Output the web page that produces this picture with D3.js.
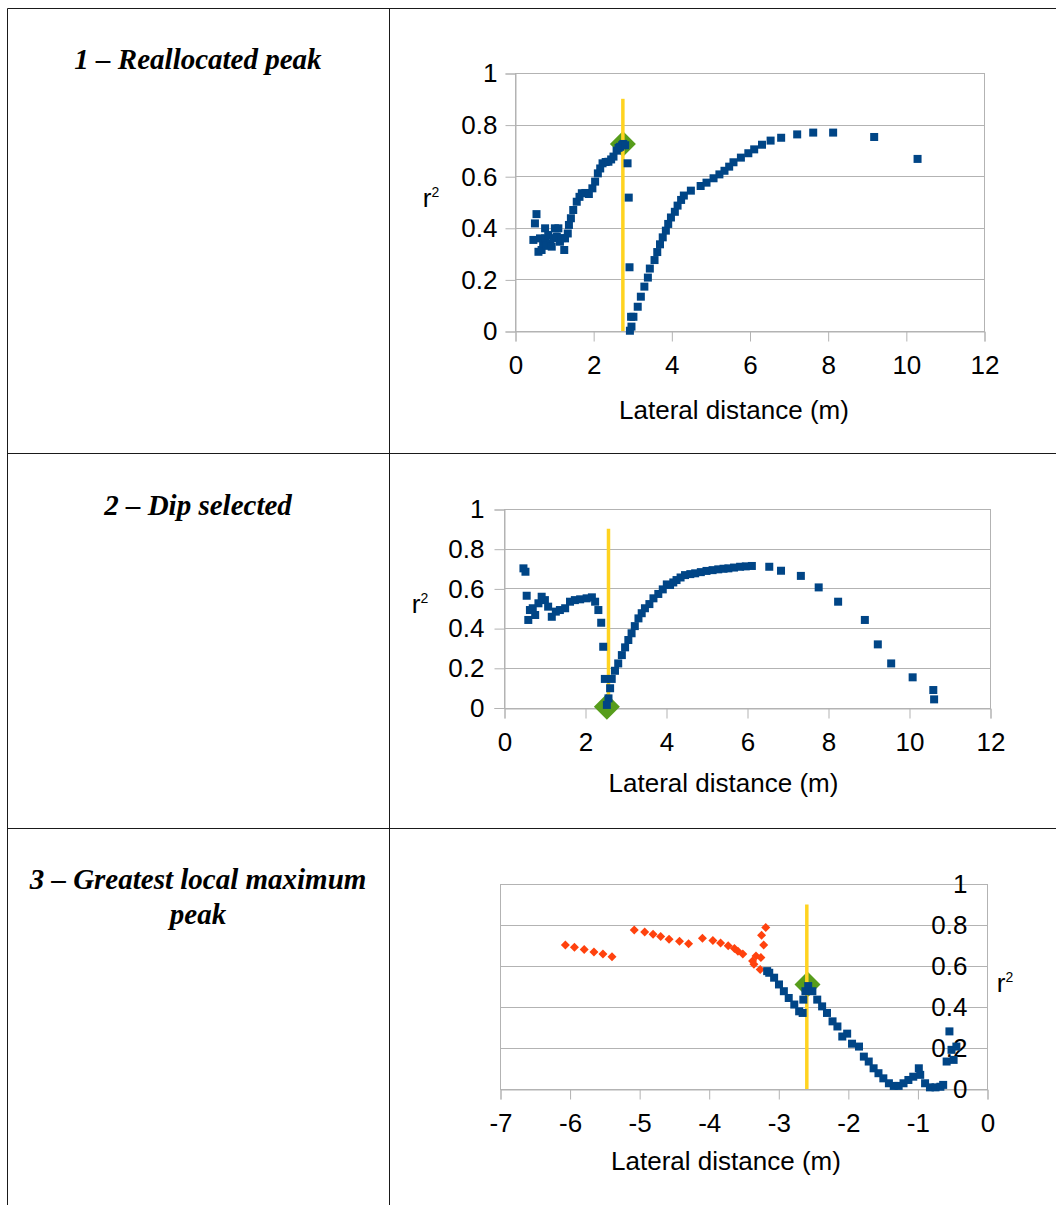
<!DOCTYPE html>
<html>
<head>
<meta charset="utf-8">
<script src="https://cdn.jsdelivr.net/npm/d3@7"></script>
<style>
  html, body { margin: 0; padding: 0; background: #fff; }
  svg { display: block; }
</style>
</head>
<body>
<svg id="chart" width="1056" height="1205"></svg>
<script>
// ---------------- DATA ----------------
const titles = [["1 – Reallocated peak"], ["2 – Dip selected"], ["3 – Greatest local maximum", "peak"]];

const xTicks12 = [0, 2, 4, 6, 8, 10, 12];
const xTicksNeg = [-7, -6, -5, -4, -3, -2, -1, 0];
const yTicks = [0, 0.2, 0.4, 0.6, 0.8, 1];
const yTickLabels = ["0", "0.2", "0.4", "0.6", "0.8", "1"];
const xTitle = "Lateral distance (m)";

// Chart 1 – blue series (x, r²)
const chart1Blue = [
  [0.47,0.353],[0.51,0.417],[0.55,0.453],[0.60,0.307],[0.64,0.359],[0.68,0.314],[0.72,0.340],
  [0.77,0.398],[0.77,0.359],[0.81,0.330],[0.85,0.372],[0.90,0.340],[0.94,0.327],[0.98,0.360],
  [1.02,0.398],[1.07,0.366],[1.11,0.398],[1.15,0.346],[1.20,0.360],[1.26,0.314],[1.28,0.359],
  [1.35,0.378],[1.38,0.411],[1.43,0.437],[1.49,0.469],[1.58,0.501],[1.65,0.520],[1.71,0.534],
  [1.80,0.535],[1.89,0.531],[1.98,0.553],[2.05,0.579],[2.12,0.611],[2.18,0.630],[2.24,0.650],
  [2.32,0.655],[2.39,0.656],[2.46,0.665],[2.52,0.676],[2.60,0.699],[2.65,0.710],[2.69,0.714],
  [2.74,0.720],[2.77,0.725],[2.82,0.720],
  [2.88,0.650],[2.91,0.517],[2.93,0.247],[2.97,0.055],[3.03,0.055],[2.98,0.017],[2.94,0.001],
  [3.14,0.094],[3.22,0.133],[3.31,0.172],[3.40,0.207],[3.45,0.242],[3.57,0.275],[3.64,0.306],
  [3.71,0.336],[3.78,0.363],[3.86,0.389],[3.92,0.415],[3.99,0.440],[4.09,0.462],[4.16,0.486],
  [4.25,0.508],[4.32,0.525],[4.50,0.544],[4.75,0.562],[4.90,0.575],[5.08,0.592],[5.23,0.607],
  [5.36,0.621],[5.48,0.637],[5.59,0.654],[5.78,0.672],[5.97,0.689],[6.12,0.704],[6.32,0.722],
  [6.54,0.738],[6.81,0.749],[7.22,0.762],[7.63,0.769],[8.14,0.769],[9.19,0.752],[10.30,0.667]
];
const chart1Peak = [2.76, 0.725];
const chart1Marker = 2.76;

// Chart 2 – blue series
const chart2Blue = [
  [0.48,0.701],[0.53,0.684],[0.56,0.563],[0.60,0.441],[0.64,0.491],[0.71,0.500],[0.77,0.466],
  [0.85,0.525],[0.93,0.558],[1.01,0.541],[1.09,0.508],[1.18,0.457],[1.28,0.483],[1.38,0.491],
  [1.51,0.500],[1.63,0.533],[1.75,0.541],[1.88,0.545],[2.04,0.550],[2.17,0.555],[2.25,0.533],
  [2.33,0.491],[2.40,0.427],[2.45,0.306],[2.49,0.144],[2.66,0.144],[2.62,0.097],[2.58,0.046],
  [2.54,0.013],[2.74,0.185],[2.82,0.222],[2.91,0.264],[2.99,0.303],[3.07,0.340],[3.15,0.374],
  [3.23,0.410],[3.32,0.449],[3.40,0.475],[3.48,0.500],[3.59,0.521],[3.69,0.550],[3.81,0.572],
  [3.92,0.595],[4.02,0.620],[4.10,0.617],[4.18,0.630],[4.26,0.642],[4.36,0.655],[4.47,0.667],
  [4.60,0.672],[4.72,0.676],[4.86,0.682],[5.00,0.688],[5.15,0.692],[5.29,0.696],[5.42,0.699],
  [5.54,0.701],[5.68,0.705],[5.83,0.709],[5.97,0.711],[6.12,0.713],[6.55,0.709],[6.84,0.689],
  [7.33,0.663],[7.77,0.605],[8.25,0.533],[8.91,0.441],[9.23,0.318],[9.56,0.222],[10.09,0.152],
  [10.60,0.088],[10.62,0.041]
];
const chart2Dip = [2.54, 0.004];
const chart2Marker = 2.58;

// Chart 3 – orange series
const chart3Orange = [
  [-6.06,0.702],[-5.93,0.691],[-5.79,0.680],[-5.65,0.668],[-5.52,0.658],[-5.39,0.645],
  [-5.07,0.776],[-4.92,0.766],[-4.80,0.755],[-4.69,0.744],[-4.57,0.730],[-4.42,0.721],[-4.29,0.708],
  [-4.09,0.735],[-3.94,0.724],[-3.83,0.712],[-3.72,0.699],[-3.63,0.685],[-3.58,0.672],[-3.51,0.659],
  [-3.37,0.624],[-3.35,0.608],[-3.32,0.649],[-3.25,0.641],[-3.21,0.702],[-3.24,0.750],[-3.18,0.788],
  [-3.26,0.583]
];
// Chart 3 – blue series
const chart3Blue = [
  [-3.16,0.575],[-3.13,0.567],[-3.06,0.543],[-2.99,0.510],[-2.92,0.477],[-2.85,0.444],[-2.77,0.412],
  [-2.70,0.379],[-2.65,0.371],[-2.64,0.436],[-2.61,0.477],[-2.57,0.502],[-2.51,0.477],[-2.44,0.436],
  [-2.37,0.403],[-2.30,0.371],[-2.22,0.330],[-2.15,0.305],[-2.08,0.256],[-2.01,0.270],[-1.94,0.221],
  [-1.84,0.207],[-1.77,0.158],[-1.70,0.134],[-1.63,0.101],[-1.56,0.077],[-1.49,0.052],[-1.41,0.028],
  [-1.34,0.015],[-1.27,0.015],[-1.20,0.028],[-1.13,0.044],[-1.06,0.060],[-0.98,0.101],[-0.96,0.069],
  [-0.89,0.028],[-0.82,0.008],[-0.74,0.008],[-0.67,0.011],[-0.63,0.020],[-0.58,0.134],[-0.54,0.281],
  [-0.51,0.191],[-0.48,0.142],[-0.44,0.207]
];
const chart3Peak = [-2.58, 0.51];
const chart3Marker = -2.59;
const markerTop = 0.9;

// ---------------- STYLE / LAYOUT ----------------
const BLUE = "#004586", ORANGE = "#ff420e", GREEN = "#579d1c", YELLOW = "#ffd320";
const GRID = "#b3b3b3";
const FONT = "'Liberation Sans', Arial, sans-serif";
const TFONT = "'Liberation Serif', 'Times New Roman', serif";

const svg = d3.select("#chart");
svg.append("rect").attr("width", 1056).attr("height", 1205).attr("fill", "#fff");

// table
const tbl = svg.append("g").attr("stroke", "#1a1a1a").attr("stroke-width", 1).attr("fill", "none");
tbl.append("line").attr("x1", 7.5).attr("x2", 1056).attr("y1", 8.5).attr("y2", 8.5);
tbl.append("line").attr("x1", 7.5).attr("x2", 7.5).attr("y1", 8.5).attr("y2", 1205);
tbl.append("line").attr("x1", 389.5).attr("x2", 389.5).attr("y1", 8.5).attr("y2", 1205);
tbl.append("line").attr("x1", 7.5).attr("x2", 1056).attr("y1", 453.5).attr("y2", 453.5);
tbl.append("line").attr("x1", 7.5).attr("x2", 1056).attr("y1", 828.5).attr("y2", 828.5);

const titleBase = [69, 515, 889];
titles.forEach((lines, i) => {
  lines.forEach((t, j) => {
    svg.append("text").attr("x", 198).attr("y", titleBase[i] + j * 35)
      .attr("text-anchor", "middle").attr("font-family", TFONT)
      .attr("font-weight", "bold").attr("font-style", "italic").attr("font-size", 29)
      .attr("fill", "#000").text(t);
  });
});

const panels = [
  { x0: 515, x1: 984, yT: 73, yB: 331, dom: [0, 12], xt: xTicks12, yAxisRight: false,
    blue: chart1Blue, orange: [], diamond: chart1Peak, marker: chart1Marker,
    yLabPad: 8, rX: 431, xTitleX: 734, xTitleY: 419 },
  { x0: 504, x1: 990, yT: 509, yB: 707.5, dom: [0, 12], xt: xTicks12, yAxisRight: false,
    blue: chart2Blue, orange: [], diamond: chart2Dip, marker: chart2Marker,
    yLabPad: 10, rX: 420, xTitleX: 723.5, xTitleY: 792 },
  { x0: 500, x1: 987, yT: 884, yB: 1089, dom: [-7, 0], xt: xTicksNeg, yAxisRight: true,
    blue: chart3Blue, orange: chart3Orange, diamond: chart3Peak, marker: chart3Marker,
    yLabPad: 20, rX: 1005, xTitleX: 726, xTitleY: 1170 }
];

const diamondPath = r => `M0,${-r}L${r},0L0,${r}L${-r},0Z`;

panels.forEach(p => {
  const x = d3.scaleLinear().domain(p.dom).range([p.x0, p.x1]);
  const y = d3.scaleLinear().domain([0, 1]).range([p.yB, p.yT]);
  const g = svg.append("g");

  // grid
  g.append("g").selectAll("line").data(yTicks).join("line")
    .attr("x1", p.x0).attr("x2", p.x1)
    .attr("y1", d => Math.round(y(d)) + 0.5).attr("y2", d => Math.round(y(d)) + 0.5)
    .attr("stroke", GRID).attr("stroke-width", 1);
  // frame
  g.append("rect").attr("x", p.x0 + 0.5).attr("y", Math.round(p.yT) + 0.5)
    .attr("width", p.x1 - p.x0).attr("height", Math.round(p.yB) - Math.round(p.yT))
    .attr("fill", "none").attr("stroke", GRID);

  // x axis
  const xa = g.append("g").attr("transform", `translate(0.5,${Math.round(p.yB) + 0.5})`)
    .call(d3.axisBottom(x).tickValues(p.xt).tickSize(10).tickPadding(14).tickFormat(d => String(d)));
  // y axis
  const yAxisX = p.yAxisRight ? p.x1 : p.x0;
  const ya = g.append("g").attr("transform", `translate(${yAxisX + 0.5},0.5)`)
    .call(d3.axisLeft(y).tickValues(yTicks).tickSize(p.yAxisRight ? 0 : 10)
      .tickPadding(p.yLabPad).tickFormat((d, i) => yTickLabels[i]));
  [xa, ya].forEach(a => {
    a.selectAll("path, line").attr("stroke", GRID);
    a.selectAll("text").attr("font-family", FONT).attr("font-size", 26).attr("fill", "#000");
  });
  if (p.yAxisRight) ya.select(".domain").remove();

  // axis titles
  g.append("text").attr("x", p.xTitleX).attr("y", p.xTitleY).attr("text-anchor", "middle")
    .attr("font-family", FONT).attr("font-size", 26).attr("fill", "#000").text(xTitle);
  const r = g.append("text").attr("x", p.rX).attr("y", y(0.5) + 5).attr("text-anchor", "middle")
    .attr("font-family", FONT).attr("font-size", 26).attr("fill", "#000");
  r.append("tspan").text("r");
  r.append("tspan").attr("font-size", 14).attr("dy", -10).text("2");

  // highlight diamond
  g.append("path").attr("d", diamondPath(13))
    .attr("transform", `translate(${x(p.diamond[0])},${y(p.diamond[1])})`).attr("fill", GREEN);
  // selection line
  g.append("line").attr("x1", x(p.marker)).attr("x2", x(p.marker))
    .attr("y1", y(0)).attr("y2", y(markerTop)).attr("stroke", YELLOW).attr("stroke-width", 3.5);

  // orange series
  g.append("g").selectAll("path").data(p.orange).join("path")
    .attr("d", diamondPath(4.5))
    .attr("transform", d => `translate(${x(d[0])},${y(d[1])})`).attr("fill", ORANGE);
  // blue series
  g.append("g").selectAll("rect").data(p.blue).join("rect")
    .attr("x", d => x(d[0]) - 4).attr("y", d => y(d[1]) - 4)
    .attr("width", 8).attr("height", 8).attr("fill", BLUE);
});
</script>
</body>
</html>
